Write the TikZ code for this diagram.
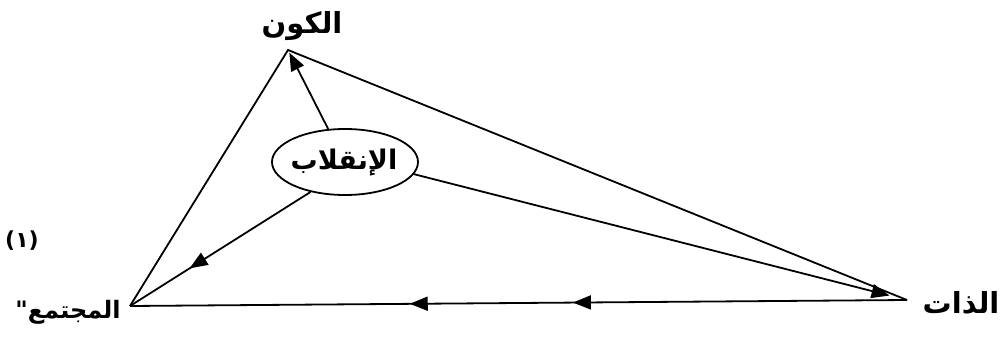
\documentclass[tikz,border=0pt]{standalone}
\usepackage{fontspec}
\newfontfamily\arabicfont[Script=Arabic]{DejaVu Sans}
\TeXXeTstate=1
\usetikzlibrary{arrows.meta,decorations.markings,shapes.geometric}
\tikzset{
  conn/.style={line width=1.8pt},
  tip/.style={-{Triangle[length=18pt,width=14pt]}},
  lbl/.style={font=\arabicfont\bfseries\fontsize{29}{34}\selectfont, inner sep=0pt},
  midarrows/.style 2 args={postaction={decorate},
    decoration={markings,
      mark=at position #1 with {\arrow{Triangle[length=18pt,width=14pt]}},
      mark=at position #2 with {\arrow{Triangle[length=18pt,width=14pt]}}}},
  midarrow/.style={postaction={decorate},
    decoration={markings,
      mark=at position #1 with {\arrow{Triangle[length=18pt,width=14pt]}}}}
}
\begin{document}
\begin{tikzpicture}[x=1pt,y=-1pt]
\useasboundingbox[fill=white] (0,0) rectangle (1005,345);
\coordinate (K) at (288,50);
\coordinate (M) at (130,306);
\coordinate (D) at (907,300);
\node[lbl] (lK) at (302,26) {\beginR الكون\endR};
\node[lbl, font=\arabicfont\bfseries\fontsize{24}{28}\selectfont] (lM) at (68,312) {\beginR المجتمع"\endR};
\node[lbl] (lD) at (961,303) {\beginR الذات\endR};
\node[font=\arabicfont\bfseries\fontsize{22}{26}\selectfont, inner sep=0pt] (n1) at (22,241) {(١)};
\node[ellipse, draw, line width=1.8pt, minimum width=146pt, minimum height=66pt, inner sep=0pt] (E) at (345,162) {};
\node[lbl, font=\arabicfont\bfseries\fontsize{27}{32}\selectfont] (Et) at (344,163) {\beginR الإنقلاب\endR};
\draw[conn] (M) -- (K) -- (D);
\draw[conn, tip, shorten >=3pt] (E.117) -- (K);
\draw[conn, midarrow=0.67] (E.221) -- (M);
\draw[conn, tip, shorten >=18pt] (E.-10) -- (D);
\draw[conn, midarrows={0.43}{0.64}] (D) -- (M);
\end{tikzpicture}
\end{document}
